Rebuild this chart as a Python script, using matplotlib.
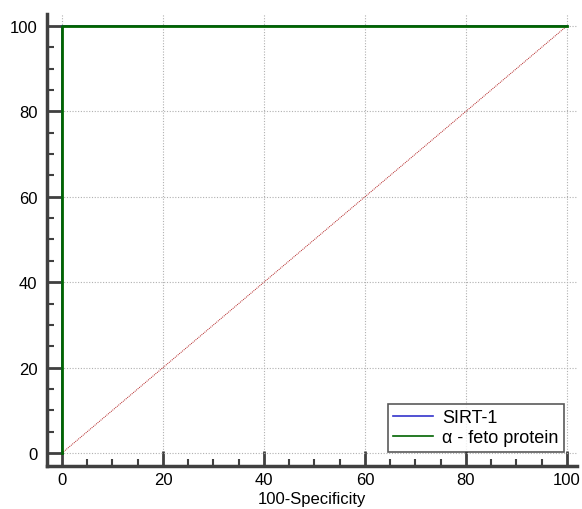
import matplotlib
matplotlib.use("Agg")
import matplotlib.pyplot as plt
from matplotlib.ticker import MultipleLocator

plt.rcParams['font.family'] = ['Liberation Sans', 'DejaVu Sans']

# ROC curves (100-Specificity vs Sensitivity)
sirt_x = [0, 0, 100]
sirt_y = [0, 100, 100]
afp_x = [0, 0, 100]
afp_y = [0, 100, 100]
ref_x = [0, 100]
ref_y = [0, 100]
x_ticks = [0, 20, 40, 60, 80, 100]
y_ticks = [0, 20, 40, 60, 80, 100]

fig = plt.figure(figsize=(5.82, 5.10), dpi=100)
ax = fig.add_axes([47 / 582, 1 - 467 / 510, 530 / 582, 452 / 510])

ax.plot(ref_x, ref_y, color='#b22222', linestyle=(0, (1, 1)), linewidth=0.7, zorder=2)
ax.plot(sirt_x, sirt_y, color='#3333cc', linewidth=1.2, label='SIRT-1', zorder=3)
ax.plot(afp_x, afp_y, color='#006400', linewidth=2.0, label='α - feto protein', zorder=4)

ax.set_xlim(-2.97, 102)
ax.set_ylim(-3.04, 102.8)
ax.set_xticks(x_ticks)
ax.set_yticks(y_ticks)
ax.xaxis.set_minor_locator(MultipleLocator(5))
ax.yaxis.set_minor_locator(MultipleLocator(5))

ax.grid(True, which='major', color='#b0b0b0', linestyle=(0, (1, 1.5)), linewidth=0.8, zorder=0)

for s in ['top', 'right']:
    ax.spines[s].set_visible(False)
for s in ['left', 'bottom']:
    ax.spines[s].set_color('#404040')
    ax.spines[s].set_linewidth(2.5)

ax.tick_params(which='major', direction='in', length=11, width=2, color='#404040',
               labelsize=12)
ax.tick_params(which='minor', direction='in', length=5, width=1.5, color='#404040')
ax.tick_params(axis='y', which='major', pad=7)
ax.tick_params(axis='x', which='major', pad=4)

ax.set_xlabel('100-Specificity', fontsize=12, labelpad=3.5)

leg = ax.legend(loc='lower right', bbox_to_anchor=(0.982, 0.024), fontsize=13,
                frameon=True, fancybox=False, edgecolor='#303030',
                handlelength=2.2, handletextpad=0.5, borderpad=0.3,
                borderaxespad=0.2, labelspacing=0.15)
leg.get_frame().set_linewidth(1.2)
for line in leg.get_lines():
    line.set_linewidth(1.2)

fig.savefig('out.png', dpi=100)
